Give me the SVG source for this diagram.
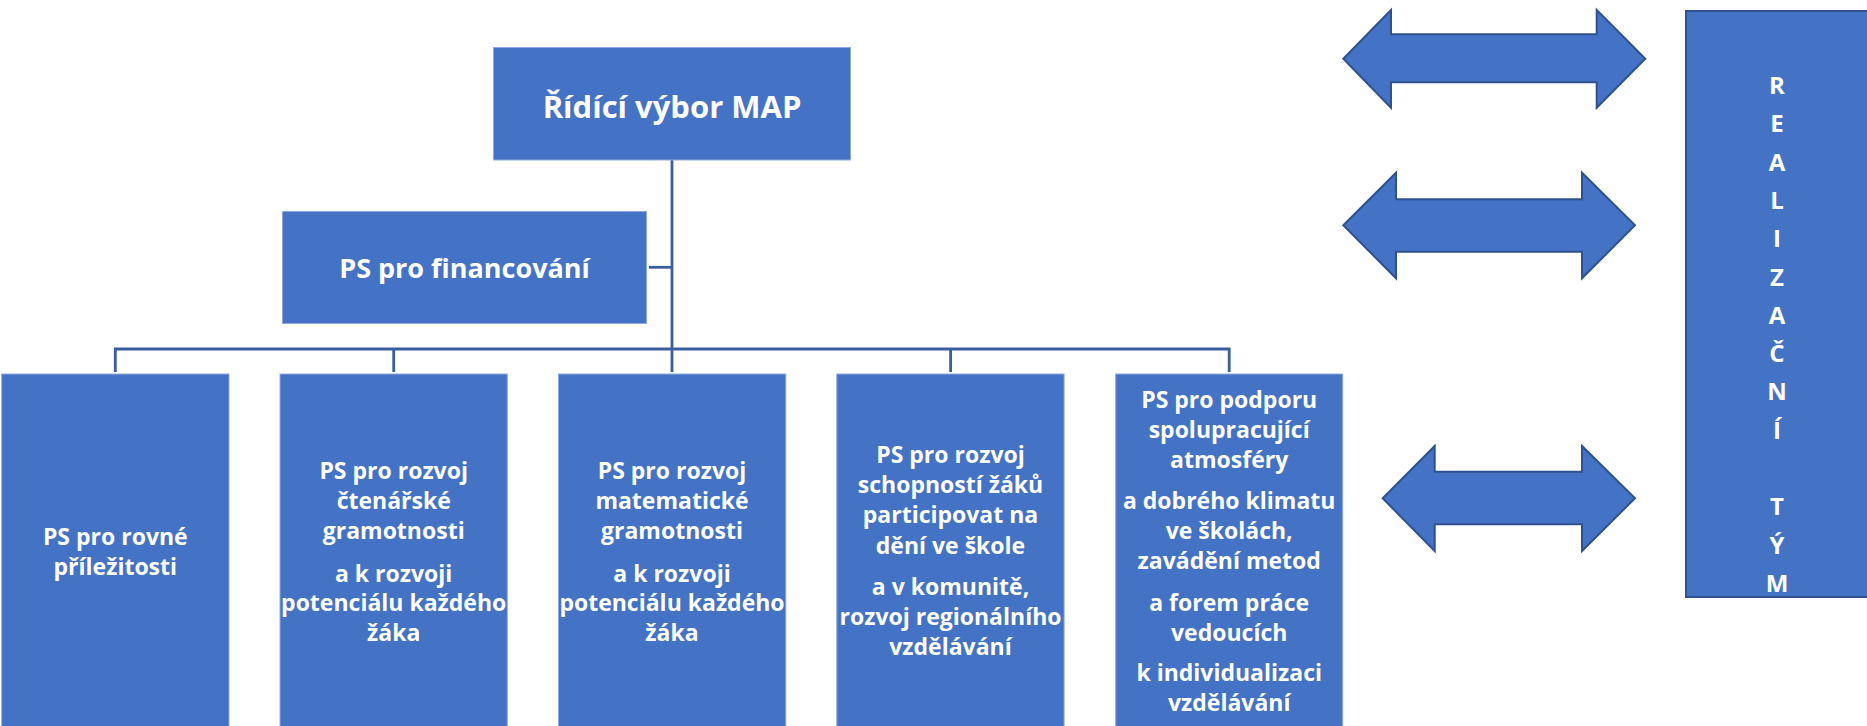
<svg xmlns="http://www.w3.org/2000/svg" width="1867" height="726" viewBox="0 0 1867 726">
<defs>
<style>
.box{fill:#4472C4;stroke:#8FAADC;stroke-width:1}
.rbox{fill:#4472C4;stroke:#2F528F;stroke-width:2}
.arrow{fill:#4472C4;stroke:#2F528F;stroke-width:2;stroke-linejoin:miter}
.conn{fill:none;stroke:#3A5D9C;stroke-width:2.8}
text{font-family:"Open Sans","Liberation Sans",sans-serif;font-weight:700;fill:#FFFFFF;text-anchor:middle}
.t1{font-size:31px}
.t2{font-size:27px}
.t3{font-size:23px}
.t4{font-size:24px}
</style>
</defs>
<rect width="1867" height="726" fill="#FFFFFF"/>
<g id="connectors">
<path class="conn" d="M672 160 V372"/>
<path class="conn" d="M649 267.3 H672"/>
<path class="conn" d="M115.3 372 V349 H1229.2 V372"/>
<path class="conn" d="M393.7 349 V372"/>
<path class="conn" d="M950.6 349 V372"/>
</g>
<g id="node-ridici">
<rect class="box" x="493.5" y="47.5" width="357" height="112.5"/>
<text class="t1" x="672" y="117.5">Řídící výbor MAP</text>
</g>
<g id="node-financovani">
<rect class="box" x="282.5" y="211.5" width="364" height="112"/>
<text class="t2" x="464.5" y="278">PS pro financování</text>
</g>
<g id="node-rovne">
<rect class="box" x="1.7" y="374" width="227.3" height="370"/>
<text class="t3" x="115.3"><tspan x="115.3" y="545">PS pro rovné</tspan><tspan x="115.3" y="575">příležitosti</tspan></text>
</g>
<g id="node-ctenarske">
<rect class="box" x="280" y="374" width="227.3" height="370"/>
<text class="t3" x="393.7"><tspan x="393.7" y="479">PS pro rozvoj</tspan><tspan x="393.7" y="509">čtenářské</tspan><tspan x="393.7" y="539">gramotnosti</tspan><tspan x="393.7" y="581.5">a k rozvoji</tspan><tspan x="393.7" y="611">potenciálu každého</tspan><tspan x="393.7" y="641">žáka</tspan></text>
</g>
<g id="node-matematicke">
<rect class="box" x="558.5" y="374" width="227.3" height="370"/>
<text class="t3" x="672"><tspan x="672" y="479">PS pro rozvoj</tspan><tspan x="672" y="509">matematické</tspan><tspan x="672" y="539">gramotnosti</tspan><tspan x="672" y="581.5">a k rozvoji</tspan><tspan x="672" y="611">potenciálu každého</tspan><tspan x="672" y="641">žáka</tspan></text>
</g>
<g id="node-participace">
<rect class="box" x="836.8" y="374" width="227.3" height="370"/>
<text class="t3" x="950.5"><tspan x="950.5" y="463">PS pro rozvoj</tspan><tspan x="950.5" y="493">schopností žáků</tspan><tspan x="950.5" y="523">participovat na</tspan><tspan x="950.5" y="553.5">dění ve škole</tspan><tspan x="950.5" y="595">a v komunitě,</tspan><tspan x="950.5" y="625">rozvoj regionálního</tspan><tspan x="950.5" y="655">vzdělávání</tspan></text>
</g>
<g id="node-atmosfera">
<rect class="box" x="1115.7" y="374" width="227" height="370"/>
<text class="t3" x="1229.2"><tspan x="1229.2" y="408">PS pro podporu</tspan><tspan x="1229.2" y="438">spolupracující</tspan><tspan x="1229.2" y="468">atmosféry</tspan><tspan x="1229.2" y="508.5">a dobrého klimatu</tspan><tspan x="1229.2" y="538.5">ve školách,</tspan><tspan x="1229.2" y="568.5">zavádění metod</tspan><tspan x="1229.2" y="610.5">a forem práce</tspan><tspan x="1229.2" y="640.5">vedoucích</tspan><tspan x="1229.2" y="681">k individualizaci</tspan><tspan x="1229.2" y="711">vzdělávání</tspan></text>
</g>
<g id="arrow-1">
<polygon class="arrow" points="1343.3,58.7 1391,10 1391,34.3 1596.7,34.3 1596.7,10 1645.3,58.7 1596.7,107.7 1596.7,82.3 1391,82.3 1391,107.7"/>
</g>
<g id="arrow-2">
<polygon class="arrow" points="1343.3,225.3 1396,172.7 1396,199.3 1582,199.3 1582,172.7 1635,225.3 1582,278.3 1582,251.7 1396,251.7 1396,278.3"/>
</g>
<g id="arrow-3">
<polygon class="arrow" points="1382.7,498.3 1434.7,446 1434.7,471.7 1582,471.7 1582,446 1635,498.3 1582,551 1582,524.3 1434.7,524.3 1434.7,551"/>
</g>
<g id="node-realizacni-tym">
<rect class="rbox" x="1686" y="11" width="190" height="586"/>
<text class="t4" x="1777"><tspan x="1777" y="94">R</tspan><tspan x="1777" y="132.3">E</tspan><tspan x="1777" y="170.6">A</tspan><tspan x="1777" y="208.9">L</tspan><tspan x="1777" y="247.2">I</tspan><tspan x="1777" y="285.5">Z</tspan><tspan x="1777" y="323.8">A</tspan><tspan x="1777" y="362.1">Č</tspan><tspan x="1777" y="400.4">N</tspan><tspan x="1777" y="438.7">Í</tspan><tspan x="1777" y="515.3">T</tspan><tspan x="1777" y="553.6">Ý</tspan><tspan x="1777" y="591.9">M</tspan></text>
</g>
</svg>
